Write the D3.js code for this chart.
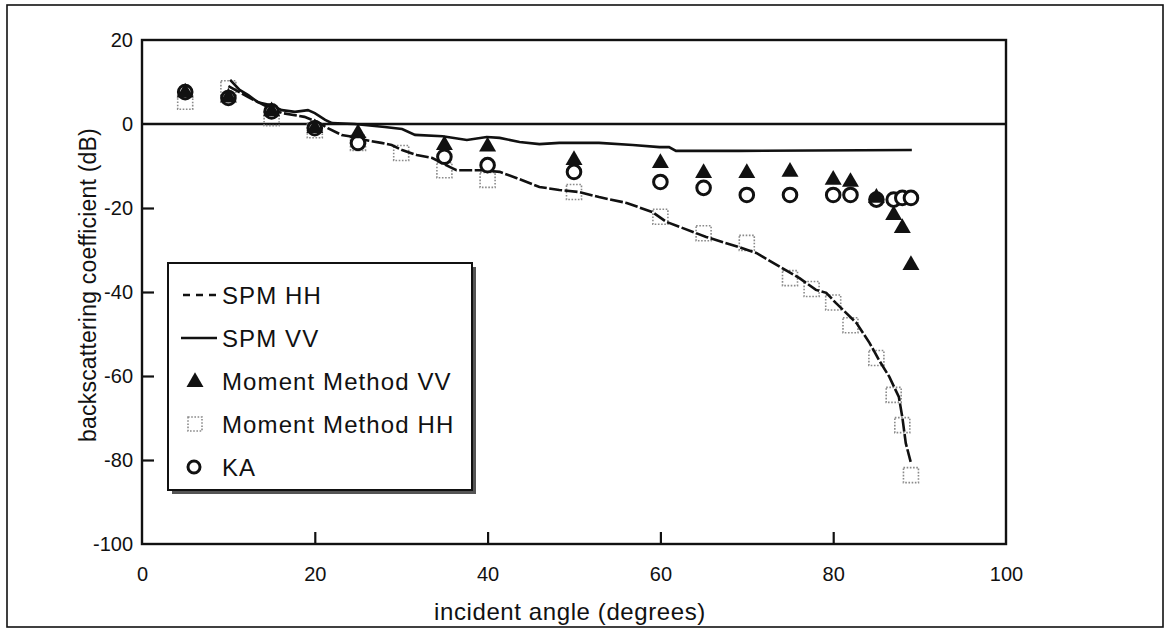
<!DOCTYPE html>
<html>
<head>
<meta charset="utf-8">
<script src="https://cdn.jsdelivr.net/npm/d3@7"></script>
<style>
  html, body { margin: 0; padding: 0; background: #fff; }
  svg { display: block; font-family: "Liberation Sans", Arial, Helvetica, sans-serif; }
</style>
</head>
<body>
<svg id="chart" width="1166" height="632"></svg>
<script>
// Backscattering coefficient vs incident angle: SPM theory curves,
// moment-method simulations and Kirchhoff approximation (KA).

// SPM VV (solid curve): [angle in degrees, dB]
const spmVV = [
  [10.2, 10.5], [11.3, 8.1], [12.3, 6.9], [13.4, 5.2], [14.8, 4.5], [16.2, 3.3],
  [17.7, 2.9], [19.2, 3.3], [20.0, 2.6], [21.2, 1.0], [22.0, 0.2], [24.6, 0.0],
  [28.1, -0.7], [30.1, -1.2], [31.6, -2.6], [34.8, -2.9], [37.6, -3.8], [39.9, -3.1],
  [41.4, -3.3], [43.7, -4.3], [46.0, -4.8], [48.3, -4.5], [52.9, -4.5], [56.8, -5.0],
  [59.9, -5.5], [61.0, -5.5], [61.8, -6.4], [69.1, -6.4], [89.1, -6.2]
];

// SPM HH (dashed curve)
const spmHH = [
  [10.0, 9.0], [12.3, 6.4], [14.8, 3.8], [16.2, 2.6], [17.7, 2.1], [18.8, 1.7],
  [20.3, 0.5], [21.5, -1.0], [23.1, -2.6], [24.6, -3.1], [25.8, -3.8], [27.7, -4.5],
  [28.9, -5.0], [30.1, -6.2], [31.8, -7.4], [33.6, -8.1], [35.6, -10.2], [36.4, -11.0],
  [39.4, -11.0], [41.4, -11.4], [43.4, -12.9], [46.0, -15.0], [48.3, -15.7], [50.6, -16.2],
  [52.9, -17.4], [56.1, -18.8], [59.1, -21.0], [60.7, -23.3], [65.3, -26.9], [69.1, -29.3],
  [71.1, -30.7], [74.1, -34.3], [76.1, -36.7], [78.0, -39.5], [79.2, -40.2], [80.3, -42.6],
  [82.7, -47.4], [84.2, -52.1], [85.3, -56.2], [86.5, -60.2], [87.6, -65.0], [88.0, -69.8],
  [88.4, -76.0], [89.0, -80.7]
];

// Moment method VV (filled triangles)
const mmVVAngles = [5, 10, 15, 20, 25, 35, 40, 50, 60, 65, 70, 75, 80, 82, 85, 87, 88, 89];
const mmVVValues = [7.5, 6.3, 3.0, -1.0, -2.2, -5.0, -5.4, -8.6, -9.3, -11.7, -11.7, -11.4, -13.3, -13.8, -17.6, -21.7, -24.8, -33.6];

// Moment method HH (dotted squares)
const mmHHAngles = [5, 10, 15, 20, 25, 30, 35, 40, 50, 60, 65, 70, 75, 77.5, 80, 82, 85, 87, 88, 89];
const mmHHValues = [5.3, 8.5, 1.4, -1.5, -4.5, -6.9, -11.0, -13.3, -16.2, -22.1, -26.0, -28.3, -36.7, -39.3, -42.5, -47.9, -55.7, -64.5, -71.7, -83.6];

// KA (open circles)
const kaAngles = [5, 10, 15, 20, 25, 35, 40, 50, 60, 65, 70, 75, 80, 82, 85, 87, 88, 89];
const kaValues = [7.6, 6.2, 3.0, -1.0, -4.5, -7.8, -9.8, -11.4, -13.8, -15.2, -16.9, -16.9, -16.9, -16.9, -18.0, -18.0, -17.6, -17.6];

// Axis ticks
const xTicks = [0, 20, 40, 60, 80, 100];
const yTicks = [20, 0, -20, -40, -60, -80, -100];

// Legend entries
const legendLabels = ["SPM HH", "SPM VV", "Moment Method VV", "Moment Method HH", "KA"];

const svg = d3.select("#chart");
const plot = { left: 142, top: 40, width: 864, height: 504 };

const x = d3.scaleLinear().domain([0, 100]).range([plot.left, plot.left + plot.width]);
const y = d3.scaleLinear().domain([20, -100]).range([plot.top, plot.top + plot.height]);

const plainNum = d => String(d);   // ASCII hyphen for negatives

// Outer frame
svg.append("rect")
  .attr("x", 7).attr("y", 5).attr("width", 1156).attr("height", 622)
  .attr("fill", "none").attr("stroke", "#111").attr("stroke-width", 1.6);

// Y axis: labels on all ticks, inward tick marks on interior ticks only
const yAxis = svg.append("g")
  .attr("transform", `translate(${plot.left},0)`)
  .call(d3.axisLeft(y).tickValues(yTicks).tickFormat(plainNum).tickSize(-12).tickPadding(9));
yAxis.select(".domain").remove();
yAxis.selectAll(".tick line")
  .attr("stroke", "#111").attr("stroke-width", 2.2)
  .filter(d => d === 20 || d === 0 || d === -100).remove();
yAxis.selectAll(".tick text")
  .attr("font-size", 20).attr("fill", "#111").attr("font-family", "Liberation Sans, Arial, sans-serif");

// X axis
const xAxis = svg.append("g")
  .attr("transform", `translate(0,${plot.top + plot.height})`)
  .call(d3.axisBottom(x).tickValues(xTicks).tickFormat(plainNum).tickSize(-12).tickPadding(23));
xAxis.select(".domain").remove();
xAxis.selectAll(".tick line")
  .attr("stroke", "#111").attr("stroke-width", 2.2)
  .filter(d => d === 0 || d === 100).remove();
xAxis.selectAll(".tick text")
  .attr("font-size", 20).attr("fill", "#111").attr("font-family", "Liberation Sans, Arial, sans-serif");

// Plot border
svg.append("rect")
  .attr("x", plot.left).attr("y", plot.top)
  .attr("width", plot.width).attr("height", plot.height)
  .attr("fill", "none").attr("stroke", "#111").attr("stroke-width", 2.4);

// Zero reference line
svg.append("line")
  .attr("x1", x(0)).attr("x2", x(100))
  .attr("y1", y(0)).attr("y2", y(0))
  .attr("stroke", "#111").attr("stroke-width", 2.4);

// Axis titles
svg.append("text")
  .attr("x", 570).attr("y", 620)
  .attr("text-anchor", "middle")
  .attr("font-size", 24).attr("letter-spacing", 0.6).attr("fill", "#111")
  .text("incident angle (degrees)");

svg.append("text")
  .attr("transform", "translate(96,285) rotate(-90)")
  .attr("text-anchor", "middle")
  .attr("font-size", 23).attr("letter-spacing", 0.2).attr("fill", "#111")
  .text("backscattering coefficient (dB)");

// Markers
const sqSize = 15;
const squares = mmHHAngles.map((a, i) => [a, mmHHValues[i]]);
svg.append("g").selectAll("rect").data(squares).join("rect")
  .attr("x", d => x(d[0]) - sqSize / 2)
  .attr("y", d => y(d[1]) - sqSize / 2)
  .attr("width", sqSize).attr("height", sqSize)
  .attr("fill", "none").attr("stroke", "#8a8a8a")
  .attr("stroke-width", 1.6).attr("stroke-dasharray", "1.6,1.6");

// Curves
const line = d3.line().x(d => x(d[0])).y(d => y(d[1]));
svg.append("path").datum(spmHH).attr("d", line)
  .attr("fill", "none").attr("stroke", "#111").attr("stroke-width", 2.6)
  .attr("stroke-dasharray", "13,2.5");
svg.append("path").datum(spmVV).attr("d", line)
  .attr("fill", "none").attr("stroke", "#111").attr("stroke-width", 2.6);

const circles = kaAngles.map((a, i) => [a, kaValues[i]]);
svg.append("g").selectAll("circle").data(circles).join("circle")
  .attr("cx", d => x(d[0])).attr("cy", d => y(d[1]))
  .attr("r", 6.8)
  .attr("fill", "#fff").attr("stroke", "#111").attr("stroke-width", 3);

const tri = d3.symbol().type(d3.symbolTriangle).size(125);
const triangles = mmVVAngles.map((a, i) => [a, mmVVValues[i]]);
svg.append("g").selectAll("path").data(triangles).join("path")
  .attr("transform", d => `translate(${x(d[0])},${y(d[1])})`)
  .attr("d", tri).attr("fill", "#111");

// Legend with drop shadow
const lg = { x: 168, y: 263, w: 304, h: 227 };
svg.append("rect")
  .attr("x", lg.x + 4).attr("y", lg.y + 4).attr("width", lg.w).attr("height", lg.h)
  .attr("fill", "#555");
svg.append("rect")
  .attr("x", lg.x).attr("y", lg.y).attr("width", lg.w).attr("height", lg.h)
  .attr("fill", "#fff").attr("stroke", "#111").attr("stroke-width", 2);

const rowY = i => lg.y + 32 + i * 43;
const legend = svg.append("g");
legendLabels.forEach((label, i) => {
  legend.append("text")
    .attr("x", lg.x + 54).attr("y", rowY(i))
    .attr("dy", "0.36em")
    .attr("font-size", 24).attr("letter-spacing", 1.1).attr("fill", "#111")
    .text(label);
});
// Legend keys
legend.append("line")
  .attr("x1", lg.x + 15).attr("x2", lg.x + 49)
  .attr("y1", rowY(0)).attr("y2", rowY(0))
  .attr("stroke", "#111").attr("stroke-width", 2.4).attr("stroke-dasharray", "7,6");
legend.append("line")
  .attr("x1", lg.x + 13).attr("x2", lg.x + 49)
  .attr("y1", rowY(1)).attr("y2", rowY(1))
  .attr("stroke", "#111").attr("stroke-width", 2.4);
legend.append("path")
  .attr("transform", `translate(${lg.x + 27},${rowY(2) + 1})`)
  .attr("d", tri).attr("fill", "#111");
legend.append("rect")
  .attr("x", lg.x + 20).attr("y", rowY(3) - 7).attr("width", 14).attr("height", 14)
  .attr("fill", "none").attr("stroke", "#8a8a8a")
  .attr("stroke-width", 1.6).attr("stroke-dasharray", "1.6,1.6");
legend.append("circle")
  .attr("cx", lg.x + 26).attr("cy", rowY(4)).attr("r", 6)
  .attr("fill", "#fff").attr("stroke", "#111").attr("stroke-width", 3);
</script>
</body>
</html>
